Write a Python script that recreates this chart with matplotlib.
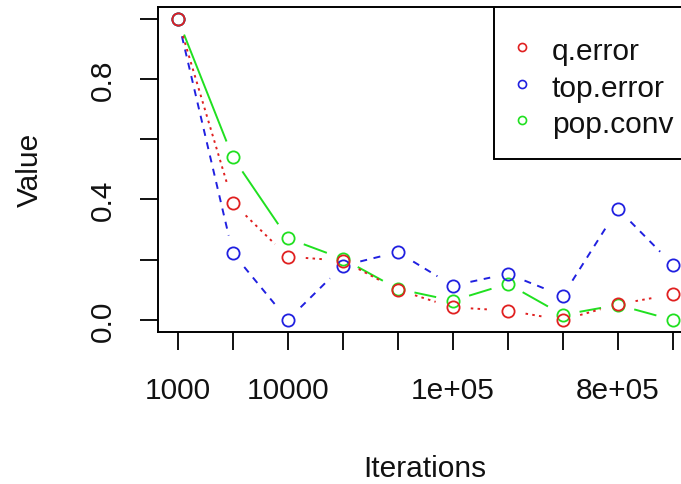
import numpy as np
import matplotlib
matplotlib.use("Agg")
import matplotlib.pyplot as plt
from matplotlib.patches import Rectangle

# values (R matplot, type = "b")
positions = np.arange(1, 11)
tick_labels = ["1000", "", "10000", "", "", "1e+05", "", "", "8e+05", ""]
q_error = [1.0, 0.389, 0.21, 0.197, 0.10, 0.042, 0.031, 0.0, 0.052, 0.085]
top_error = [1.0, 0.222, 0.0, 0.18, 0.225, 0.114, 0.153, 0.08, 0.369, 0.184]
pop_conv = [1.0, 0.54, 0.271, 0.203, 0.103, 0.064, 0.12, 0.017, 0.05, 0.0]
series_names = ["q.error", "top.error", "pop.conv"]
y_ticks = [0.0, 0.2, 0.4, 0.6, 0.8, 1.0]
y_tick_labels = ["0.0", "", "0.4", "", "0.8", ""]

plt.rcParams["font.family"] = ["Liberation Sans", "DejaVu Sans"]

W, H = 681, 485
fig = plt.figure(figsize=(W / 100, H / 100), dpi=100)
ax = fig.add_axes([158 / W, 152 / H, 534.6 / W, 325.3 / H])
ax.set_xlim(0.64, 10.36)
ax.set_ylim(-0.04, 1.04)


def draw_b(ax, x, y, color, ls, z, gap=18):
    # lines with a gap around every point, like R's type = "b"
    pts = ax.transData.transform(np.column_stack([x, y]))
    inv = ax.transData.inverted()
    for p0, p1 in zip(pts[:-1], pts[1:]):
        d = p1 - p0
        L = np.hypot(*d)
        if L <= 2 * gap:
            continue
        u = d / L
        seg = inv.transform([p0 + u * gap, p1 - u * gap])
        ax.plot(seg[:, 0], seg[:, 1], color=color, ls=ls, lw=1.4, zorder=z)
    ax.plot(x, y, "o", mfc="none", mec=color, ms=8.8, mew=1.3, zorder=z + 0.5)


colors = ["#e02020", "#2020e0", "#20e020"]
styles = [(0, (1.3, 2.2)), (0, (3.6, 3.4)), "-"]
data = [q_error, top_error, pop_conv]
zs = [5, 4, 3]
for vals, c, ls, z in zip(data, colors, styles, zs):
    draw_b(ax, positions, vals, c, ls, z)

for s in ax.spines.values():
    s.set_linewidth(1.4)

ax.set_xticks(positions)
ax.set_xticklabels(tick_labels)
ax.set_yticks(y_ticks)
ax.set_yticklabels(y_tick_labels, rotation=90, va="center")
ax.tick_params(axis="both", length=13, width=1.4, labelsize=21.5, colors="#111111")
ax.tick_params(axis="x", pad=19)
ax.tick_params(axis="y", pad=16.5)

ax.set_xlabel("Iterations", fontsize=21.5, va="center", color="#111111")
ax.xaxis.set_label_coords(0.5, -0.418)
ax.set_ylabel("Value", fontsize=21.5, va="center", color="#111111")
ax.yaxis.set_label_coords(-0.24, 0.5)

# legend box, top right (cut off by the image edge like the original)
x0 = (494 - 158) / 534.6
y0 = (333 - 160) / 325.3
ax.add_patch(Rectangle((x0, y0), 1 - x0, 1 - y0, transform=ax.transAxes,
                       fc="white", ec="black", lw=1.4, zorder=10))
row_base = [60, 97, 133]
for name, c, b in zip(series_names, colors, row_base):
    ax.plot([(522 - 158) / 534.6], [(333 - b + 12) / 325.3], "o", mfc="none",
            mec=c, ms=5.8, mew=1.2, transform=ax.transAxes, zorder=11, clip_on=False)
    ax.text((552 - 158) / 534.6, (333 - b) / 325.3, name, transform=ax.transAxes,
            fontsize=21.5, va="baseline", ha="left", color="#111111", zorder=11)

fig.savefig("out.png", dpi=100)
